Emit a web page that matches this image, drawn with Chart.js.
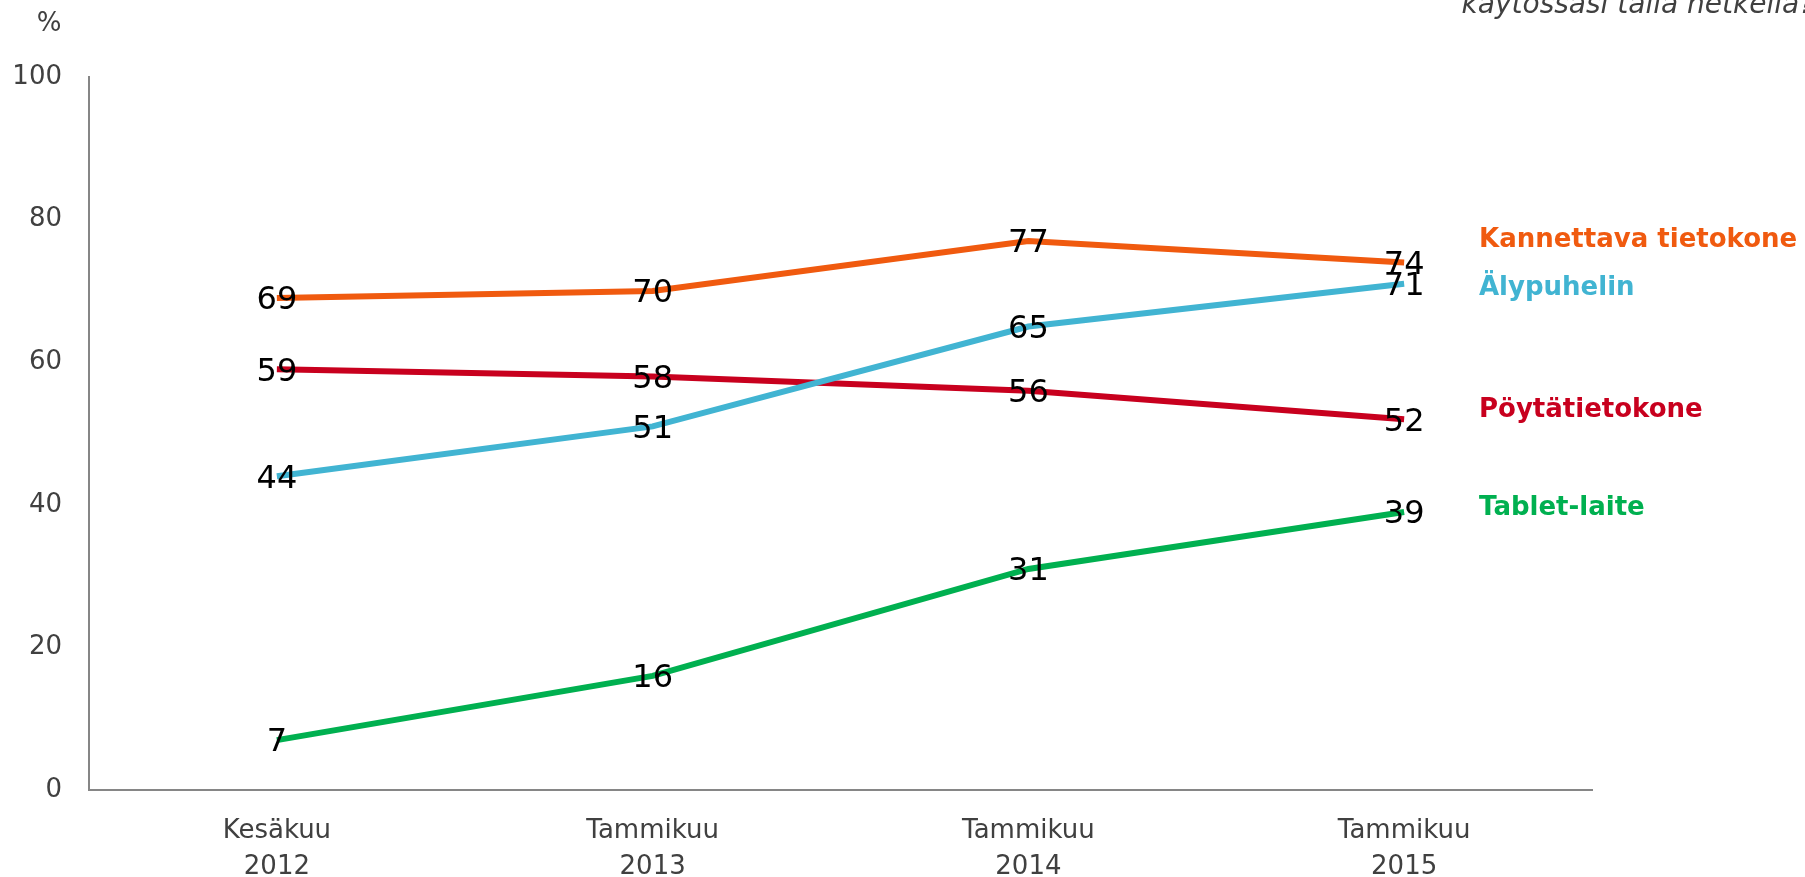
<!DOCTYPE html>
<html>
<head>
<meta charset="utf-8">
<script src="https://cdn.jsdelivr.net/npm/chart.js@4"></script>
<style>
  html, body { margin: 0; padding: 0; background: #fff; }
  #wrap { width: 1805px; height: 877px; }
</style>
</head>
<body>
<div id="wrap"><canvas id="chart"></canvas></div>
<script>
// categories (multi-line tick labels)
const categories = [['Kesäkuu', '2012'], ['Tammikuu', '2013'], ['Tammikuu', '2014'], ['Tammikuu', '2015']];
const yTicks = [0, 20, 40, 60, 80, 100];

// series values, %
const kannettava = [69, 70, 77, 74];
const alypuhelin = [44, 51, 65, 71];
const poyta = [59, 58, 56, 52];
const tablet = [7, 16, 31, 39];

const seriesNames = ['Kannettava tietokone', 'Älypuhelin', 'Pöytätietokone', 'Tablet-laite'];
const colors = ['#F05A0F', '#41B4D2', '#C8001E', '#00B050'];
// vertical nudge (px) of the end labels so they don't collide
const nameNudge = [-22, 4, -9, -4];

const FONT = '"DejaVu Sans", Verdana, sans-serif';

// value labels + series names on the right + "%" + clipped subtitle
const labelPlugin = {
  id: 'labels',
  afterDatasetsDraw(chart) {
    const ctx = chart.ctx;
    const area = chart.chartArea;
    const y = chart.scales.y;
    ctx.save();
    ctx.fillStyle = '#000';
    ctx.font = '32px ' + FONT;
    ctx.textAlign = 'center';
    ctx.textBaseline = 'middle';
    chart.data.datasets.forEach((ds, i) => {
      chart.getDatasetMeta(i).data.forEach((pt, j) => {
        ctx.fillText(String(ds.data[j]), pt.x, pt.y + 3);
      });
    });

    ctx.font = 'bold 26px ' + FONT;
    ctx.textAlign = 'left';
    chart.data.datasets.forEach((ds, i) => {
      const last = ds.data[ds.data.length - 1];
      ctx.fillStyle = colors[i];
      ctx.fillText(seriesNames[i], area.right - 113, y.getPixelForValue(last) + nameNudge[i]);
    });

    ctx.fillStyle = '#404040';
    ctx.font = '26px ' + FONT;
    ctx.textAlign = 'center';
    ctx.fillText('%', 49, 24);

    ctx.font = 'italic 28px ' + FONT;
    ctx.textAlign = 'right';
    ctx.textBaseline = 'alphabetic';
    ctx.fillText('käytössäsi tällä hetkellä?', 1814, 13);
    ctx.restore();
  }
};

new Chart(document.getElementById('chart'), {
  type: 'line',
  data: {
    labels: categories,
    datasets: [kannettava, alypuhelin, poyta, tablet].map((d, i) => ({
      label: seriesNames[i],
      data: d,
      borderColor: colors[i],
      backgroundColor: colors[i],
      borderWidth: 6,
      pointRadius: 0,
      tension: 0,
      fill: false
    }))
  },
  options: {
    responsive: true,
    maintainAspectRatio: false,
    animation: false,
    layout: { padding: { left: 0, right: 213, top: 77, bottom: 0 } },
    plugins: {
      legend: { display: false },
      tooltip: { enabled: false }
    },
    scales: {
      x: {
        offset: true,
        grid: { display: false, drawTicks: false },
        border: { display: true, color: '#868686', width: 2 },
        ticks: {
          color: '#404040',
          font: { family: FONT, size: 26, lineHeight: 1.36 },
          padding: 24,
          maxRotation: 0,
          autoSkip: false
        },
        afterFit(scale) { scale.height = 87; }
      },
      y: {
        min: 0,
        max: 100,
        afterBuildTicks(scale) { scale.ticks = yTicks.map(v => ({ value: v })); },
        grid: { display: false, drawTicks: false },
        border: { display: true, color: '#868686', width: 2 },
        ticks: {
          color: '#404040',
          font: { family: FONT, size: 26 },
          padding: 27
        },
        afterFit(scale) { scale.width = 89; }
      }
    }
  },
  plugins: [labelPlugin]
});
</script>
</body>
</html>
